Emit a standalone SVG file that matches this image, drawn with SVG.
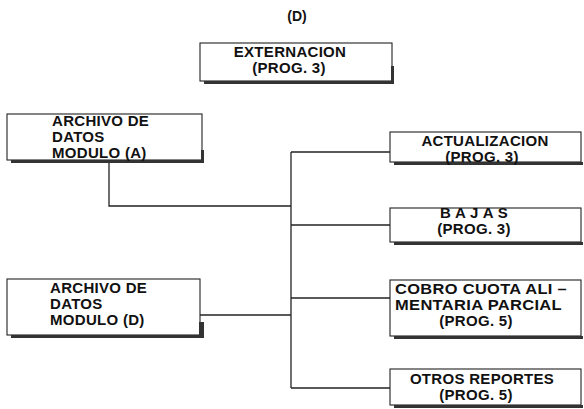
<svg xmlns="http://www.w3.org/2000/svg" width="584" height="409" viewBox="0 0 584 409">
<style>
.box{fill:#fff;stroke:#222;stroke-width:1.1}
.sh{fill:#333}
.t{font-family:"Liberation Sans",Arial,sans-serif;font-weight:bold;font-size:15px;letter-spacing:0.3px;fill:#111}
.c{text-anchor:middle}
.ln{fill:none;stroke:#222;stroke-width:1.3}
</style>
<rect width="584" height="409" fill="#fff"/>
<text class="t c" x="297" y="21" style="font-size:14px;letter-spacing:0">(D)</text>
<g id="connectors">
<path class="ln" d="M291,152 V388"/>
<path class="ln" d="M291,152 H390"/>
<path class="ln" d="M291,225 H390"/>
<path class="ln" d="M291,298 H390"/>
<path class="ln" d="M291,388 H390"/>
<path class="ln" d="M109,163 V206 H291"/>
<path class="ln" d="M200,315 H291"/>
</g>
<g id="externacion">
<rect class="box" x="200" y="43" width="192" height="38"/>
<rect class="sh" x="204" y="81" width="190" height="3"/>
<rect class="sh" x="391" y="66" width="3" height="18"/>
<text class="t c" x="290" y="57">EXTERNACION</text>
<text class="t c" x="289" y="73">(PROG. 3)</text>
</g>
<g id="archivo-a">
<rect class="box" x="7" y="114" width="195" height="46"/>
<rect class="sh" x="11" y="160" width="193" height="3"/>
<rect class="sh" x="201" y="150" width="3" height="13"/>
<text class="t" x="52" y="126">ARCHIVO DE</text>
<text class="t" x="52" y="142">DATOS</text>
<text class="t" x="52" y="158">MODULO (A)</text>
</g>
<g id="archivo-d">
<rect class="box" x="7" y="279" width="193" height="56"/>
<rect class="sh" x="11" y="335" width="193" height="3"/>
<rect class="sh" x="199" y="322" width="5" height="16"/>
<text class="t" x="50" y="293">ARCHIVO DE</text>
<text class="t" x="50" y="309">DATOS</text>
<text class="t" x="50" y="325">MODULO (D)</text>
</g>
<g id="actualizacion">
<rect class="box" x="390" y="132" width="191" height="30"/>
<rect class="sh" x="394" y="162" width="189" height="3"/>
<text class="t c" x="485" y="146">ACTUALIZACION</text>
<text class="t c" x="482" y="162">(PROG. 3)</text>
</g>
<g id="bajas">
<rect class="box" x="390" y="208" width="191" height="34"/>
<rect class="sh" x="394" y="242" width="189" height="3"/>
<text class="t c" x="474" y="218">B A J A S</text>
<text class="t c" x="474" y="234">(PROG. 3)</text>
</g>
<g id="cobro">
<rect class="box" x="390" y="280" width="191" height="56"/>
<rect class="sh" x="394" y="336" width="189" height="3"/>
<text class="t" x="395" y="294" textLength="172" lengthAdjust="spacingAndGlyphs">COBRO CUOTA ALI –</text>
<text class="t" x="395" y="310" textLength="167" lengthAdjust="spacingAndGlyphs">MENTARIA PARCIAL</text>
<text class="t c" x="476" y="326">(PROG. 5)</text>
</g>
<g id="otros">
<rect class="box" x="390" y="369" width="191" height="36"/>
<rect class="sh" x="394" y="405" width="189" height="3"/>
<text class="t c" x="482" y="384">OTROS REPORTES</text>
<text class="t c" x="476" y="400">(PROG. 5)</text>
</g>
</svg>
